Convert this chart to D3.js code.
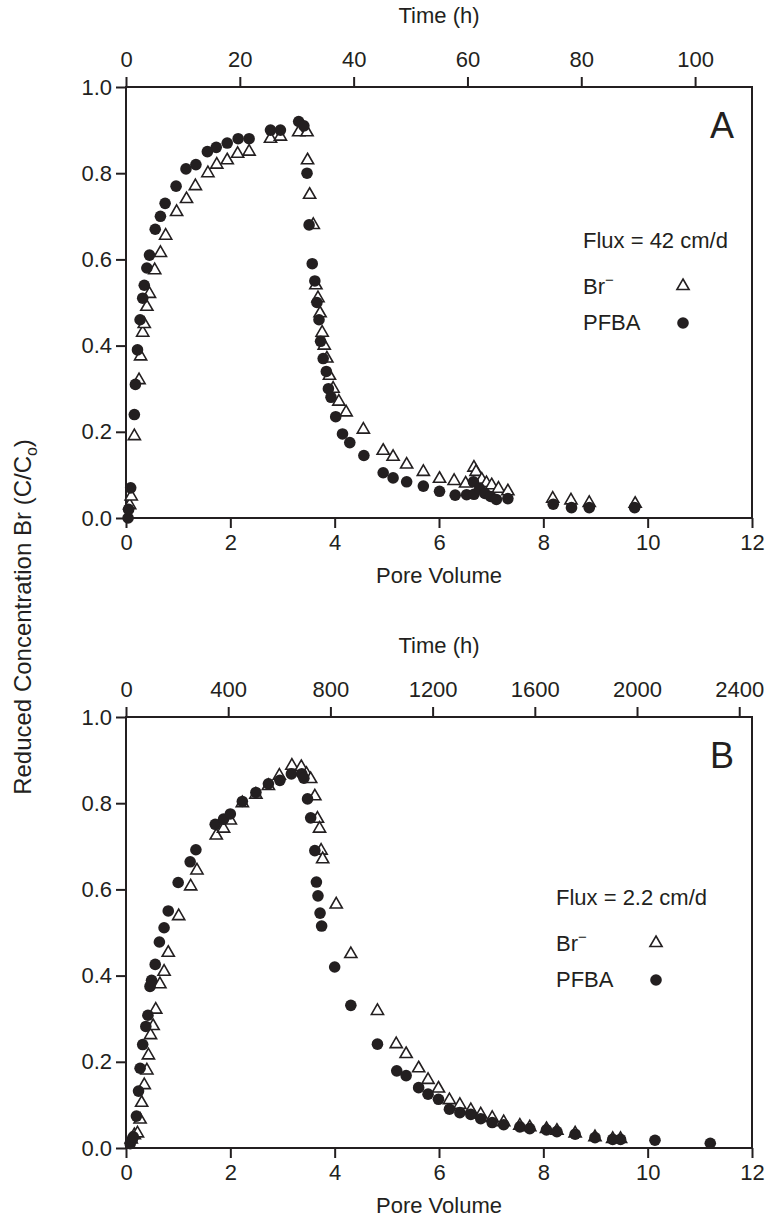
<!DOCTYPE html>
<html>
<head>
<meta charset="utf-8">
<script src="https://cdn.jsdelivr.net/npm/d3@7"></script>
<style>
  body { margin: 0; background: #fff; }
  svg text { font-family: "Liberation Sans", Arial, Helvetica, sans-serif; fill: #231f20; }
</style>
</head>
<body>
<svg id="chart" width="770" height="1230"></svg>
<script>
// pore volume ticks shared by both panels
let pvTicks = [0, 2, 4, 6, 8, 10, 12]
let cTicks = [0, 0.2, 0.4, 0.6, 0.8, 1.0]

// panel A, flux 42 cm/d  [pore volume, C/Co]
let timeTicksA = [0, 20, 40, 60, 80, 100]
let brA = [[0.07,0.03],[0.10,0.05],[0.16,0.19],[0.25,0.32],[0.28,0.375],[0.32,0.43],[0.35,0.45],[0.40,0.49],
  [0.45,0.52],[0.55,0.575],[0.66,0.615],[0.76,0.655],[0.97,0.71],[1.16,0.74],[1.33,0.77],[1.57,0.80],[1.74,0.82],
  [1.94,0.83],[2.14,0.845],[2.36,0.85],[2.77,0.88],[2.96,0.885],[3.31,0.895],[3.47,0.895],[3.48,0.83],[3.52,0.75],
  [3.59,0.68],[3.64,0.54],[3.68,0.51],[3.72,0.475],[3.76,0.43],[3.80,0.40],[3.85,0.37],[3.90,0.33],[3.97,0.30],
  [4.08,0.27],[4.22,0.245],[4.55,0.205],[4.93,0.156],[5.12,0.142],[5.38,0.124],[5.70,0.107],[6.01,0.091],
  [6.29,0.086],[6.51,0.08],[6.67,0.117],[6.71,0.107],[6.82,0.089],[6.91,0.081],[7.01,0.076],[7.14,0.068],
  [7.32,0.062],[8.18,0.045],[8.53,0.041],[8.88,0.035],[9.76,0.033]]
let pfbaA = [[0.04,0.0],[0.05,0.02],[0.09,0.07],[0.16,0.24],[0.18,0.31],[0.22,0.39],[0.27,0.46],[0.32,0.51],
  [0.35,0.54],[0.40,0.58],[0.45,0.61],[0.56,0.67],[0.66,0.70],[0.75,0.73],[0.96,0.77],[1.15,0.81],[1.34,0.82],
  [1.56,0.85],[1.73,0.86],[1.94,0.87],[2.15,0.88],[2.36,0.88],[2.77,0.90],[2.96,0.90],[3.31,0.92],[3.41,0.91],
  [3.47,0.80],[3.51,0.68],[3.57,0.59],[3.62,0.55],[3.66,0.50],[3.70,0.46],[3.73,0.41],[3.78,0.37],[3.84,0.34],
  [3.88,0.30],[3.93,0.28],[4.02,0.235],[4.15,0.195],[4.29,0.175],[4.56,0.145],[4.93,0.105],[5.12,0.093],
  [5.38,0.084],[5.70,0.074],[6.01,0.062],[6.31,0.053],[6.53,0.054],[6.66,0.084],[6.67,0.055],[6.78,0.068],
  [6.88,0.057],[6.99,0.05],[7.10,0.043],[7.32,0.045],[8.19,0.032],[8.54,0.024],[8.88,0.024],[9.75,0.024]]

// panel B, flux 2.2 cm/d
let timeTicksB = [0, 400, 800, 1200, 1600, 2000, 2400]
let brB = [[0.10,0.02],[0.16,0.03],[0.22,0.034],[0.27,0.066],[0.30,0.105],[0.35,0.146],[0.40,0.18],[0.43,0.215],
  [0.47,0.262],[0.52,0.283],[0.57,0.321],[0.65,0.38],[0.73,0.409],[0.81,0.453],[1.01,0.538],[1.24,0.607],
  [1.36,0.644],[1.73,0.725],[1.87,0.741],[2.0,0.76],[2.23,0.80],[2.49,0.82],[2.73,0.84],[2.94,0.864],[3.18,0.887],
  [3.36,0.884],[3.46,0.868],[3.54,0.856],[3.62,0.816],[3.67,0.764],[3.71,0.741],[3.74,0.69],[3.77,0.67],
  [4.03,0.565],[4.31,0.45],[4.82,0.318],[5.18,0.241],[5.37,0.218],[5.61,0.185],[5.79,0.158],[5.99,0.138],
  [6.2,0.111],[6.40,0.10],[6.61,0.088],[6.80,0.078],[7.02,0.07],[7.24,0.06],[7.55,0.052],[7.74,0.048],
  [8.06,0.044],[8.26,0.04],[8.61,0.034],[8.99,0.025],[9.33,0.021],[9.48,0.021]]
let pfbaB = [[0.08,0.01],[0.12,0.02],[0.14,0.026],[0.20,0.074],[0.24,0.132],[0.27,0.185],[0.32,0.24],[0.38,0.282],
  [0.42,0.308],[0.46,0.375],[0.49,0.389],[0.56,0.426],[0.64,0.478],[0.73,0.511],[0.81,0.55],[1.0,0.616],
  [1.23,0.664],[1.34,0.692],[1.71,0.751],[1.87,0.763],[2.0,0.775],[2.23,0.804],[2.49,0.825],[2.73,0.845],
  [2.95,0.853],[3.17,0.868],[3.37,0.868],[3.41,0.858],[3.48,0.81],[3.54,0.766],[3.62,0.69],[3.65,0.617],
  [3.68,0.585],[3.72,0.545],[3.75,0.515],[4.0,0.42],[4.31,0.331],[4.82,0.241],[5.19,0.179],[5.37,0.168],
  [5.61,0.14],[5.79,0.125],[5.99,0.113],[6.2,0.09],[6.40,0.082],[6.61,0.078],[6.80,0.068],[7.02,0.059],
  [7.24,0.054],[7.55,0.049],[7.74,0.045],[8.06,0.042],[8.26,0.038],[8.61,0.032],[8.99,0.024],[9.33,0.02],
  [9.48,0.02],[10.14,0.018],[11.2,0.011]]

let svg = d3.select('#chart')
let ink = '#231f20'
let left = 126, right = 752

let x = d3.scaleLinear().domain([0, 12]).range([left, right])
let tri = d3.symbol().type(d3.symbolTriangle).size(64)

function drawPanel(top, timeMax, timeTicks, br, pfba, letter, flux, lx, ly) {
  let bottom = top + 431
  let y = d3.scaleLinear().domain([0, 1]).range([bottom, top])
  let xt = d3.scaleLinear().domain([0, timeMax]).range([left, right])
  let g = svg.append('g')

  let axisStyle = sel => {
    sel.select('.domain').remove()
    sel.selectAll('line').attr('stroke', ink).attr('stroke-width', 2)
    sel.selectAll('text').attr('font-size', 22).style('fill', ink)
  }

  g.append('g').attr('transform', `translate(0,${bottom})`)
    .call(d3.axisBottom(x).tickValues(pvTicks).tickSize(10).tickPadding(6))
    .call(axisStyle)
  g.append('g').attr('transform', `translate(0,${top})`)
    .call(d3.axisTop(xt).tickValues(timeTicks).tickFormat(d3.format('d')).tickSize(10).tickPadding(10))
    .call(axisStyle)
  g.append('g').attr('transform', `translate(${left},0)`)
    .call(d3.axisLeft(y).tickValues(cTicks).tickFormat(d3.format('.1f')).tickSize(10).tickPadding(4))
    .call(axisStyle)

  g.append('rect')
    .attr('x', left).attr('y', top)
    .attr('width', right - left).attr('height', bottom - top)
    .attr('fill', 'none').attr('stroke', ink).attr('stroke-width', 2)

  g.append('text').attr('x', (left + right) / 2).attr('y', top - 64)
    .attr('text-anchor', 'middle').attr('font-size', 22).text('Time (h)')
  g.append('text').attr('x', (left + right) / 2).attr('y', bottom + 65)
    .attr('text-anchor', 'middle').attr('font-size', 22).text('Pore Volume')

  g.append('text').attr('x', 734).attr('y', top + 51)
    .attr('text-anchor', 'end').attr('font-size', 36).text(letter)

  // markers: open triangles under filled circles
  g.selectAll('.br').data(br).enter().append('path')
    .attr('class', 'br')
    .attr('d', tri)
    .attr('transform', d => `translate(${x(d[0])},${y(d[1])})`)
    .attr('fill', '#fff').attr('stroke', ink).attr('stroke-width', 1.6)
  g.selectAll('.pfba').data(pfba).enter().append('circle')
    .attr('class', 'pfba')
    .attr('cx', d => x(d[0])).attr('cy', d => y(d[1]))
    .attr('r', 5.8).attr('fill', ink)

  // legend
  g.append('text').attr('x', lx).attr('y', ly).attr('font-size', 22).text(flux)
  let brLabel = g.append('text').attr('x', lx).attr('y', ly + 46).attr('font-size', 22)
  brLabel.append('tspan').text('Br')
  brLabel.append('tspan').attr('dy', -9).attr('font-size', 15).text('\u2212')
  g.append('path').attr('d', tri)
    .attr('transform', `translate(${lx + 100},${ly + 38})`)
    .attr('fill', '#fff').attr('stroke', ink).attr('stroke-width', 1.6)
  g.append('text').attr('x', lx).attr('y', ly + 82).attr('font-size', 22).text('PFBA')
  g.append('circle').attr('cx', lx + 100).attr('cy', ly + 75).attr('r', 5.8).attr('fill', ink)
}

drawPanel(87, 110, timeTicksA, brA, pfbaA, 'A', 'Flux = 42 cm/d', 583, 248)
drawPanel(717, 2450, timeTicksB, brB, pfbaB, 'B', 'Flux = 2.2 cm/d', 556, 905)

// shared y title
let yt = svg.append('text')
  .attr('transform', 'translate(31,617) rotate(-90)')
  .attr('text-anchor', 'middle').attr('font-size', 24)
yt.append('tspan').text('Reduced Concentration Br (C/C')
yt.append('tspan').attr('dy', 6).attr('font-size', 16).text('o')
yt.append('tspan').attr('dy', -6).text(')')
</script>
</body>
</html>
